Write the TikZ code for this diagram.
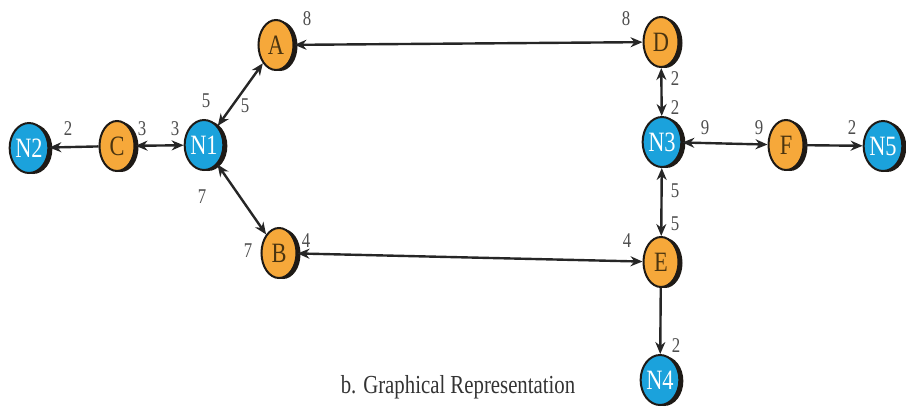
\documentclass[tikz,border=0pt]{standalone}
\usepackage{fontspec}
\setmainfont{Liberation Serif}
\usetikzlibrary{arrows.meta,shadows,shapes.geometric}
\newcommand{\narrowtxt}[1]{\scalebox{0.8}[1]{#1}}
\definecolor{nodeorange}{HTML}{F6A83A}
\definecolor{nodeblue}{HTML}{1BA2DC}
\definecolor{letterink}{HTML}{4A3410}
\definecolor{labelgray}{HTML}{4D4D4D}
\definecolor{rimdark}{HTML}{1E1A16}
\begin{document}
\begin{tikzpicture}[x=1pt,y=-1pt,
  vertex/.style={ellipse,minimum width=35pt,minimum height=50pt,inner sep=0pt,
    draw=rimdark,line width=2pt,
    drop shadow={shadow xshift=4pt,shadow yshift=-1pt,opacity=1,fill=rimdark},
    font=\fontsize{28}{28}\selectfont},
  task/.style={vertex,fill=nodeorange,text=letterink},
  hub/.style={vertex,fill=nodeblue,text=white},
  link/.style={line width=2.4pt,draw=black!85,-{Stealth[length=12pt,width=10pt]}},
  bilink/.style={link,{Stealth[length=12pt,width=10pt]}-{Stealth[length=12pt,width=10pt]}},
  wt/.style={text=labelgray,font=\fontsize{21}{21}\selectfont,inner sep=0pt}]
\useasboundingbox (0,0) rectangle (906,410);

% vertices
\node[hub]  (N2) at (29,148) {\narrowtxt{N2}};
\node[task] (C)  at (117,146) {\narrowtxt{C}};
\node[hub]  (N1) at (204,145) {\narrowtxt{N1}};
\node[task] (A)  at (276,45) {\narrowtxt{A}};
\node[task] (B)  at (279,253) {\narrowtxt{B}};
\node[task] (D)  at (661,42) {\narrowtxt{D}};
\node[hub]  (N3) at (662,142) {\narrowtxt{N3}};
\node[task] (F)  at (786,145) {\narrowtxt{F}};
\node[hub]  (N5) at (883,146) {\narrowtxt{N5}};
\node[task] (E)  at (661,262) {\narrowtxt{E}};
\node[hub]  (N4) at (660,380) {\narrowtxt{N4}};

% connectors
\draw[link]   (C) -- (N2);
\draw[bilink] (C) -- (N1);
\draw[bilink] (N1) -- (A);
\draw[bilink] (N1) -- (B);
\draw[bilink] (A) -- (D);
\draw[bilink] (B) -- (E);
\draw[bilink] (D) -- (N3);
\draw[bilink] (N3) -- (F);
\draw[link]   (F) -- (N5);
\draw[bilink] (N3) -- (E);
\draw[link]   (E) -- (N4);

% weights
\node[wt] (w1)  at (68,129)  {\narrowtxt{2}};
\node[wt] (w2)  at (142,129) {\narrowtxt{3}};
\node[wt] (w3)  at (175,129) {\narrowtxt{3}};
\node[wt] (w4)  at (206,101) {\narrowtxt{5}};
\node[wt] (w5)  at (245,106) {\narrowtxt{5}};
\node[wt] (w6)  at (202,197) {\narrowtxt{7}};
\node[wt] (w7)  at (248,251) {\narrowtxt{7}};
\node[wt] (w8)  at (307,19)  {\narrowtxt{8}};
\node[wt] (w9)  at (626,19)  {\narrowtxt{8}};
\node[wt] (w10) at (306,241) {\narrowtxt{4}};
\node[wt] (w11) at (627,241) {\narrowtxt{4}};
\node[wt] (w12) at (675,79)  {\narrowtxt{2}};
\node[wt] (w13) at (675,108) {\narrowtxt{2}};
\node[wt] (w14) at (705,128) {\narrowtxt{9}};
\node[wt] (w15) at (759,128) {\narrowtxt{9}};
\node[wt] (w16) at (852,128) {\narrowtxt{2}};
\node[wt] (w17) at (675,191) {\narrowtxt{5}};
\node[wt] (w18) at (675,224) {\narrowtxt{5}};
\node[wt] (w19) at (676,346) {\narrowtxt{2}};

% caption
\node[font=\fontsize{26}{26}\selectfont,text=black!80] (cap) at (458,387) {\narrowtxt{b. Graphical Representation}};
\end{tikzpicture}
\end{document}
